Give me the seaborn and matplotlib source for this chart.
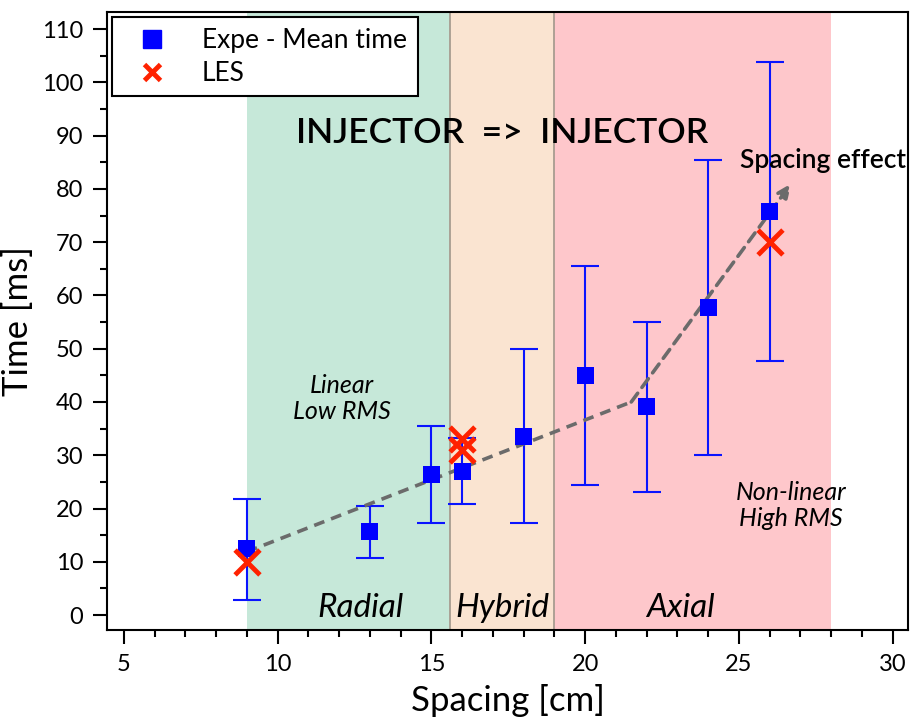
import numpy as np
import pandas as pd
import matplotlib
matplotlib.use("Agg")
import matplotlib.pyplot as plt
from matplotlib.lines import Line2D
from matplotlib.ticker import MultipleLocator
import seaborn as sns

# ---- data ----
spacing = [9, 13, 15, 16, 18, 20, 22, 24, 26]
mean_time = [12.5, 15.6, 26.3, 27.0, 33.5, 44.9, 39.1, 57.7, 75.7]
err_upper = [21.8, 20.5, 35.5, 33.3, 49.9, 65.5, 55.1, 85.4, 103.8]
err_lower = [2.8, 10.7, 17.2, 20.8, 17.2, 24.4, 23.1, 30.0, 47.6]

les_spacing = [9, 16, 16, 26]
les_time = [10.0, 33.0, 31.0, 70.0]

trend_x = [9, 21.5, 26.7]
trend_y = [11.9, 40.0, 81.0]

regions = [(9.0, 15.6, "#c6e8d9", "Radial"),
           (15.6, 19.0, "#fae4d1", "Hybrid"),
           (19.0, 28.0, "#fec7cb", "Axial")]

sns.set_style("ticks")
plt.rcParams["font.family"] = ["Lato", "DejaVu Sans"]
plt.rcParams.update({"text.color": "black", "axes.labelcolor": "black",
                     "xtick.color": "black", "ytick.color": "black"})

fig = plt.figure(figsize=(9.13, 7.21), dpi=100)
ax = fig.add_axes([107/913, 1-630/721, (908-107)/913, (630-12)/721])

for x0, x1, c, name in regions:
    ax.axvspan(x0, x1, color=c, lw=0, zorder=0)
for xb in (15.6, 19.0):
    ax.axvline(xb, color="#a89c90", lw=1.3, zorder=0.5)

# region labels
label_x = {"Radial": 12.7, "Hybrid": 17.3, "Axial": 23.1}
for name, lx in label_x.items():
    ax.text(lx, 1.3, name, style="italic", fontsize=24, ha="center", va="center")

# trend dashed line + arrow
ax.plot(trend_x[:2], trend_y[:2], ls=(0, (3, 2)), color="#6b6b6b", lw=2.6, zorder=4)
ax.annotate("", xy=(trend_x[2], trend_y[2]), xytext=(trend_x[1], trend_y[1]),
            arrowprops=dict(arrowstyle="-|>,head_length=0.8,head_width=0.35",
                            ls=(0, (3, 2)), color="#6b6b6b", lw=2.6,
                            shrinkA=0, shrinkB=0), zorder=4)

# error bars
yerr = np.array([np.array(mean_time) - np.array(err_lower),
                 np.array(err_upper) - np.array(mean_time)])
ax.errorbar(spacing, mean_time, yerr=yerr, fmt="none", ecolor="#0a14ff",
            elinewidth=1.5, capsize=10, capthick=1.5, zorder=3)

df = pd.DataFrame({"Spacing": spacing, "Time": mean_time})
df_les = pd.DataFrame({"Spacing": les_spacing, "Time": les_time})
sns.scatterplot(data=df, x="Spacing", y="Time", marker="s", s=150,
                color="#0000ff", edgecolor="none", ax=ax, zorder=5)
sns.scatterplot(data=df_les, x="Spacing", y="Time", marker="x", s=320,
                color="#ff2200", linewidth=3.5, ax=ax, zorder=6)

ax.set_xlim(4.45, 30.5)
ax.set_ylim(-2.8, 113.2)
ax.xaxis.set_major_locator(MultipleLocator(5))
ax.xaxis.set_minor_locator(MultipleLocator(1))
ax.yaxis.set_major_locator(MultipleLocator(10))
ax.yaxis.set_minor_locator(MultipleLocator(5))
ax.tick_params(which="major", length=10, width=1.5, labelsize=17, direction="out", pad=7)
ax.tick_params(which="minor", length=5, width=1.5, direction="out")
for s in ax.spines.values():
    s.set_linewidth(1.5)
    s.set_color("black")

ax.set_xlabel("Spacing [cm]", fontsize=25, labelpad=7)
ax.set_ylabel("Time [ms]", fontsize=25, labelpad=6)

ax.text(17.3, 90.5, "INJECTOR  =>  INJECTOR", fontsize=25.5, fontweight="semibold",
        ha="center", va="center", zorder=7)
ax.text(25.03, 85.4, "Spacing effect", fontsize=19, fontweight="semibold",
        ha="left", va="center", zorder=7)
ax.text(12.1, 40.6, "Linear\nLow RMS", style="italic", fontsize=18,
        ha="center", va="center", linespacing=1.15)
ax.text(26.7, 20.5, "Non-linear\nHigh RMS", style="italic", fontsize=18,
        ha="center", va="center", linespacing=1.15)

handles = [Line2D([], [], marker="s", ls="none", color="#0000ff", markersize=13,
                  label="Expe - Mean time"),
           Line2D([], [], marker="x", ls="none", color="#ff2200", markersize=12,
                  mew=3.5, label="LES")]
leg = ax.legend(handles=handles, loc="upper left", fontsize=19, frameon=True,
                fancybox=False, framealpha=1, edgecolor="black",
                borderaxespad=0.2, handletextpad=0.8, labelspacing=0.3,
                borderpad=0.4, handlelength=2.2)
leg.get_frame().set_linewidth(1.5)
leg.set_zorder(10)

fig.savefig("out.png", dpi=100)
